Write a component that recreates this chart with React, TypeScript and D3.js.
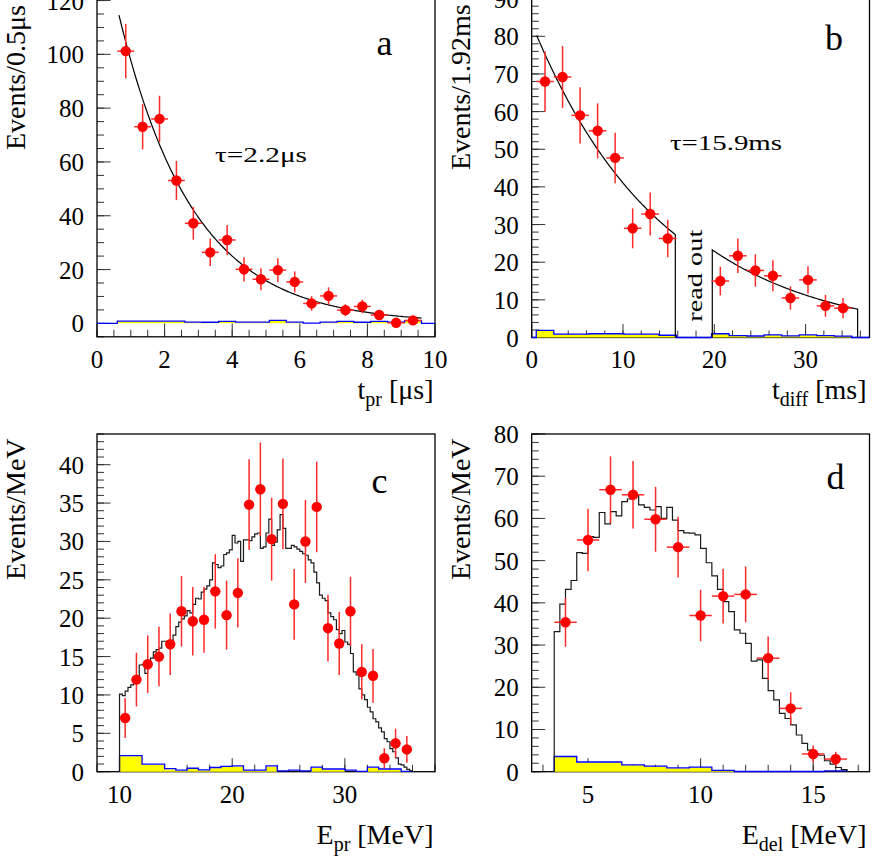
import React from 'react';
import * as d3 from 'd3';

const FONT = '"Liberation Serif","Times New Roman",Times,serif';

// ---------- Panel a : t_pr ----------
const A_T = [0.85, 1.35, 1.85, 2.35, 2.85, 3.35, 3.85, 4.35, 4.85, 5.35, 5.85, 6.35, 6.85, 7.35, 7.85, 8.35, 8.85, 9.35];
const A_N = [101.2, 73.1, 76.0, 53.1, 37.2, 26.4, 31.0, 20.1, 16.4, 19.8, 15.4, 7.4, 10.2, 4.9, 6.3, 3.1, 0.2, 1.1];
const A_ERR = [10.1, 8.4, 8.6, 7.3, 6.1, 5.1, 5.6, 4.5, 4.1, 4.4, 3.9, 2.7, 3.2, 2.2, 2.5, 1.8, 0.4, 1.0];
const A_BIN = 0.5;
const A_BG_START = 0.6;
const A_BG_YELLOW = [0.7, 0.7, 0.7, 0.7, 0.35, 0.3, 0.6, 0.35, 0.35, 1.0, 0.35, 0, 0.35, 0.6, 0.3, 0.6, 0.3, 0.9];
const A_BG_BLUE = [0.8, 0.8, 0.8, 0.8, 0.45, 0.4, 0.7, 0.45, 0.45, 1.1, 0.45, 0.05, 0.45, 0.7, 0.4, 0.7, 0.4, 1.0];
const A_FIT = { amp: 154, tau: 2.2, from: 0.65, to: 9.63 };
const A_X_TICKS = [0, 2, 4, 6, 8, 10];
const A_Y_TICKS = [0, 20, 40, 60, 80, 100, 120];

// ---------- Panel b : t_diff ----------
const B_T = [1.46, 3.38, 5.3, 7.22, 9.14, 11.06, 12.98, 14.9, 20.66, 22.58, 24.5, 26.42, 28.34, 30.26, 32.18, 34.1];
const B_N = [68.0, 69.2, 59.0, 54.9, 47.7, 29.0, 32.8, 26.3, 15.0, 21.7, 17.8, 16.4, 10.5, 15.3, 8.4, 7.8];
const B_ERR = [8.0, 8.2, 7.5, 7.3, 6.7, 5.3, 5.7, 5.0, 3.8, 4.6, 4.3, 4.1, 3.1, 3.6, 2.9, 2.7];
const B_BIN = 1.92;
const B_BG_START = 0.5;
const B_BG_YELLOW = [1.8, 0.8, 0.8, 0.9, 0.9, 0.8, 0.8, 0.5, 0, 0, 0.9, 0.4, 0.3, 0.6, 0.35, 0.6, 0.4, 0.25];
const B_BG_BLUE = [1.9, 0.9, 0.9, 1.0, 1.0, 0.9, 0.9, 0.6, 0, 0, 1.0, 0.5, 0.4, 0.7, 0.45, 0.7, 0.5, 0.35];
const B_FIT_TAU = 14.1;
const B_FIT_SEGMENTS = [
  { from: 0.55, to: 15.73, amp: 83.4, rise: false },
  { from: 19.78, to: 35.7, amp: 94.6, rise: true },
];
const B_X_TICKS = [0, 10, 20, 30];
const B_Y_TICKS = [0, 10, 20, 30, 40, 50, 60, 70, 80, 90];

// ---------- Panel c : E_pr ----------
const C_E = [10.5, 11.5, 12.5, 13.5, 14.5, 15.5, 16.5, 17.5, 18.5, 19.5, 20.5, 21.5, 22.5, 23.5, 24.5, 25.5, 26.5, 27.5, 28.5, 29.5, 30.5, 31.5, 32.5, 33.5, 34.5, 35.5];
const C_N = [7.0, 12.0, 14.0, 15.0, 16.6, 20.9, 19.6, 19.8, 23.5, 20.4, 23.3, 34.8, 36.8, 30.3, 34.9, 21.8, 30.0, 34.5, 18.7, 16.7, 20.9, 13.0, 12.5, 1.75, 3.7, 2.9];
const C_ERR = [2.6, 3.5, 3.76, 3.87, 4.0, 4.6, 4.45, 4.3, 4.85, 4.5, 4.5, 5.9, 6.1, 5.4, 5.9, 4.6, 5.4, 5.9, 4.35, 4.1, 4.5, 3.6, 3.5, 1.3, 1.9, 1.74];
const C_MC_START = 10;
const C_MC_BIN = 0.25;
const C_MC = [
  10.1, 9.9, 10.5, 11.0,
  11.3, 11.7, 12.3, 13.9,
  14.0, 12.8, 14.2, 14.8,
  15.6, 15.9, 16.1, 17.0,
  17.0, 16.3, 16.6, 17.8,
  18.9, 19.5, 19.9, 20.3,
  21.0, 20.7, 21.8, 22.6,
  22.5, 23.4, 23.8, 24.2,
  25.0, 27.2, 27.0, 26.6,
  26.8, 28.3, 28.5, 28.9,
  30.8, 29.8, 30.0, 27.4,
  30.2, 30.2, 30.1, 30.6,
  31.0, 31.1, 29.1, 29.3,
  31.1, 32.9, 29.5, 29.9,
  31.5, 33.5, 31.7, 29.1,
  29.1, 29.5, 29.3, 29.0,
  28.7, 28.4, 28.2, 27.6,
  27.2, 26.0, 24.6, 23.0,
  22.6, 22.3, 20.7, 20.2,
  19.8, 18.5, 18.0, 18.4,
  16.9, 16.6, 15.4, 13.0,
  12.6, 10.8, 10.0, 9.4,
  8.4, 7.8, 6.9, 6.5,
  5.7, 5.2, 4.3, 3.9,
  3.0, 2.6, 1.8, 1.0,
  0.9, 0.6, 0.3, 0.1,
];
const C_BG_START = 10;
const C_BG_BIN = 1;
const C_BG_YELLOW = [2.0, 2.0, 0.9, 0.9, 0.3, 0.1, 0.35, 0.15, 0.45, 0.6, 0.65, 0.1, 0.1, 0.65, 0, 0, 0, 0.5, 0.25, 0.25, 0, 0, 0.5, 0.25, 0.25, 0];
const C_BG_BLUE = [2.1, 2.1, 1.0, 1.0, 0.4, 0.2, 0.45, 0.25, 0.55, 0.7, 0.75, 0.2, 0.2, 0.75, 0.1, 0.2, 0.1, 0.6, 0.35, 0.35, 0.2, 0.05, 0.6, 0.35, 0.35, 0.05];
const C_X_TICKS = [10, 20, 30];
const C_Y_TICKS = [0, 5, 10, 15, 20, 25, 30, 35, 40];

// ---------- Panel d : E_del ----------
const D_E = [4, 5, 6, 7, 8, 9, 10, 11, 12, 13, 14, 15, 16];
const D_N = [35.4, 54.9, 66.8, 65.6, 59.8, 53.2, 37.0, 41.6, 42.0, 26.9, 15.0, 4.2, 3.0];
const D_ERR = [5.8, 7.4, 7.9, 8.0, 7.7, 7.2, 6.1, 6.5, 6.6, 5.1, 3.8, 2.0, 1.7];
const D_BIN = 1;
const D_MC_START = 3.5;
const D_MC_BIN = 0.25;
const D_MC = [
  33.2, 39.7, 43.2, 45.3, 51.9, 51.7, 55.7, 55.5, 61.4, 58.7, 61.6, 60.6, 64.0, 64.6, 65.6, 63.2,
  62.6, 62.0, 62.8, 60.0, 62.6, 59.6, 57.1, 56.6, 56.5, 56.1, 52.9, 49.5, 46.4, 43.2, 40.3, 37.9,
  33.6, 32.8, 30.4, 26.2, 26.5, 22.1, 19.2, 17.0, 13.8, 12.6, 11.1, 8.7, 6.7, 5.1, 4.3, 3.9,
  2.6, 1.8, 1.0, 0.5,
];
const D_BG_START = 3.5;
const D_BG_BIN = 1;
const D_BG_YELLOW = [3.5, 2.2, 2.2, 1.5, 1.2, 0.8, 1.0, 0.2, 0, 0, 0, 0, 0];
const D_BG_BLUE = [3.6, 2.3, 2.3, 1.6, 1.3, 0.9, 1.1, 0.3, 0.05, 0.05, 0.05, 0.05, 0.2];
const D_X_TICKS = [5, 10, 15];
const D_Y_TICKS = [0, 10, 20, 30, 40, 50, 60, 70, 80];

type Scale = d3.ScaleLinear<number, number>;
type Pt = [number, number];

const lineGen = (x: Scale, y: Scale) => d3.line<Pt>().x((d) => x(d[0])).y((d) => y(d[1]));

function stepPoints(start: number, width: number, vals: number[]): Pt[] {
  const pts: Pt[] = [[start, 0]];
  vals.forEach((v, i) => {
    pts.push([start + i * width, v]);
    pts.push([start + (i + 1) * width, v]);
  });
  pts.push([start + vals.length * width, 0]);
  return pts;
}

function Background({ x, y, start, width, yellow, blue, full }: { x: Scale; y: Scale; start: number; width: number; yellow: number[]; blue: number[]; full?: boolean }) {
  const yPts = stepPoints(start, width, yellow);
  let bPts = stepPoints(start, width, blue);
  if (full) {
    const [d0, d1] = x.domain();
    bPts = [[d0, 0] as Pt, ...bPts, [d1, 0] as Pt];
  }
  const lg = lineGen(x, y);
  return (
    <g>
      <path d={(lg(yPts) || '') + 'Z'} fill="#ffff00" stroke="none" />
      <path d={lg(bPts) || ''} fill="none" stroke="#0000ff" strokeWidth={1.3} />
    </g>
  );
}

function StepHist({ x, y, start, width, vals }: { x: Scale; y: Scale; start: number; width: number; vals: number[] }) {
  const lg = lineGen(x, y);
  return <path d={lg(stepPoints(start, width, vals)) || ''} fill="none" stroke="#1a1a1a" strokeWidth={1.2} />;
}

function DataPoints({ x, y, xs, ys, errs, halfBin }: { x: Scale; y: Scale; xs: number[]; ys: number[]; errs: number[]; halfBin: number }) {
  return (
    <g>
      {xs.map((xv, i) => (
        <g key={'e' + i} stroke="#ff2a2a" strokeWidth={1.5}>
          <line x1={x(xv)} x2={x(xv)} y1={y(ys[i] - errs[i])} y2={y(ys[i] + errs[i])} />
          {halfBin > 0 && <line x1={x(xv - halfBin)} x2={x(xv + halfBin)} y1={y(ys[i])} y2={y(ys[i])} />}
        </g>
      ))}
      {xs.map((xv, i) => (
        <circle key={'m' + i} cx={x(xv)} cy={y(ys[i])} r={5.2} fill="#ff0000" />
      ))}
    </g>
  );
}

function Frame({ x, y, xTicks, xMinor, yTicks, yMinor }: { x: Scale; y: Scale; xTicks: number[]; xMinor: number; yTicks: number[]; yMinor: number }) {
  const [x0, x1] = x.domain();
  const [y0, y1] = y.domain();
  const L = x(x0), R = x(x1), B = y(y0), T = y(y1);
  const xm = d3.range(Math.ceil(x0 / xMinor - 1e-9) * xMinor, x1 + 1e-9, xMinor);
  const ym = d3.range(Math.ceil(y0 / yMinor - 1e-9) * yMinor, y1 + 1e-9, yMinor);
  return (
    <g>
      <g stroke="#333" strokeWidth={1}>
        {xm.map((v, i) => <line key={'xm' + i} x1={x(v)} x2={x(v)} y1={B} y2={B - 7} />)}
        {xTicks.map((v, i) => <line key={'xM' + i} x1={x(v)} x2={x(v)} y1={B} y2={B - 13.5} />)}
        {ym.map((v, i) => <line key={'ym' + i} x1={L} x2={L + 7} y1={y(v)} y2={y(v)} />)}
        {yTicks.map((v, i) => <line key={'yM' + i} x1={L} x2={L + 13.5} y1={y(v)} y2={y(v)} />)}
      </g>
      <rect x={L} y={T} width={R - L} height={B - T} fill="none" stroke="#000" strokeWidth={1.3} />
    </g>
  );
}

function TickLabels({ x, y, xTicks, yTicks, xBaseline }: { x: Scale; y: Scale; xTicks: number[]; yTicks: number[]; xBaseline: number }) {
  const L = x(x.domain()[0]);
  return (
    <g fontFamily={FONT} fontSize={25} fill="#000">
      {xTicks.map((v, i) => (
        <text key={'xl' + i} x={x(v)} y={xBaseline} textAnchor="middle">{String(v)}</text>
      ))}
      {yTicks.map((v, i) => (
        <text key={'yl' + i} x={L - 13} y={y(v)} dy="0.36em" textAnchor="end">{String(v)}</text>
      ))}
    </g>
  );
}

function XTitle({ xRight, baseline, main, sub, unit }: { xRight: number; baseline: number; main: string; sub: string; unit: string }) {
  return (
    <text x={xRight} y={baseline} textAnchor="end" fontFamily={FONT} fontSize={28}>
      {main}
      <tspan fontSize={20} dy={7}>{sub}</tspan>
      <tspan dy={-7}>{' ' + unit}</tspan>
    </text>
  );
}

function YTitle({ x, y, label }: { x: number; y: number; label: string }) {
  return (
    <text transform={`translate(${x},${y}) rotate(-90)`} fontFamily={FONT} fontSize={28}>{label}</text>
  );
}

export default function App() {
  // scales
  const ax = d3.scaleLinear().domain([0, 10]).range([97, 435]);
  const ay = d3.scaleLinear().domain([-5, 125]).range([336.8, 336.8 - 130 * 2.69]);
  const bx = d3.scaleLinear().domain([0, 37]).range([531.7, 869.5]);
  const by = d3.scaleLinear().domain([0, 93]).range([337.5, 337.5 - 93 * 3.765]);
  const cx = d3.scaleLinear().domain([8, 38]).range([97, 435]);
  const cy = d3.scaleLinear().domain([0, 44]).range([771.7, 434]);
  const dx = d3.scaleLinear().domain([2.5, 17.5]).range([531.7, 869.5]);
  const dy = d3.scaleLinear().domain([0, 80]).range([771.7, 434]);

  const aFitPts: Pt[] = d3.range(A_FIT.from, A_FIT.to + 1e-9, 0.05).map((t) => [t, A_FIT.amp * Math.exp(-t / A_FIT.tau)] as Pt);
  const bFitPaths = B_FIT_SEGMENTS.map((s) => {
    const pts: Pt[] = d3.range(s.from, s.to + 1e-9, 0.1).map((t) => [t, s.amp * Math.exp(-t / B_FIT_TAU)] as Pt);
    pts.push([s.to, s.amp * Math.exp(-s.to / B_FIT_TAU)]);
    if (s.rise) pts.unshift([s.from, 0]);
    pts.push([s.to, 0]);
    return lineGen(bx, by)(pts) || '';
  });

  return (
    <svg width={872} height={868} style={{ position: 'absolute', left: 0, top: 0, background: '#fff' }}>
      <rect x={0} y={0} width={872} height={868} fill="#fff" />

      {/* Panel a */}
      <Frame x={ax} y={ay} xTicks={A_X_TICKS} xMinor={0.5} yTicks={A_Y_TICKS} yMinor={5} />
      <Background x={ax} y={ay} start={A_BG_START} width={A_BIN} yellow={A_BG_YELLOW} blue={A_BG_BLUE} full />
      <path d={lineGen(ax, ay)(aFitPts) || ''} fill="none" stroke="#000" strokeWidth={1.2} />
      <DataPoints x={ax} y={ay} xs={A_T} ys={A_N} errs={A_ERR} halfBin={A_BIN / 2} />
      <TickLabels x={ax} y={ay} xTicks={A_X_TICKS} yTicks={A_Y_TICKS} xBaseline={367.5} />
      <YTitle x={25} y={150} label="Events/0.5μs" />
      <XTitle xRight={433.5} baseline={399} main="t" sub="pr" unit="[μs]" />
      <text x={376.5} y={55} fontFamily={FONT} fontSize={36}>a</text>
      <text x={215} y={161.7} fontFamily={FONT} fontSize={21} textLength={92} lengthAdjust="spacingAndGlyphs">τ=2.2μs</text>

      {/* Panel b */}
      <Frame x={bx} y={by} xTicks={B_X_TICKS} xMinor={2} yTicks={B_Y_TICKS} yMinor={2} />
      <Background x={bx} y={by} start={B_BG_START} width={B_BIN} yellow={B_BG_YELLOW} blue={B_BG_BLUE} full />
      {bFitPaths.map((d, i) => <path key={'bf' + i} d={d} fill="none" stroke="#000" strokeWidth={1.2} />)}
      <DataPoints x={bx} y={by} xs={B_T} ys={B_N} errs={B_ERR} halfBin={B_BIN / 2} />
      <TickLabels x={bx} y={by} xTicks={B_X_TICKS} yTicks={B_Y_TICKS} xBaseline={367.5} />
      <YTitle x={470} y={170} label="Events/1.92ms" />
      <XTitle xRight={866.5} baseline={399} main="t" sub="diff" unit="[ms]" />
      <text x={825} y={50} fontFamily={FONT} fontSize={36}>b</text>
      <text x={670} y={150} fontFamily={FONT} fontSize={22} textLength={112} lengthAdjust="spacingAndGlyphs">τ=15.9ms</text>
      <text transform="translate(701.5,321.7) rotate(-90)" fontFamily={FONT} fontSize={22} textLength={92} lengthAdjust="spacingAndGlyphs">read out</text>

      {/* Panel c */}
      <Frame x={cx} y={cy} xTicks={C_X_TICKS} xMinor={2} yTicks={C_Y_TICKS} yMinor={1} />
      <Background x={cx} y={cy} start={C_BG_START} width={C_BG_BIN} yellow={C_BG_YELLOW} blue={C_BG_BLUE} />
      <StepHist x={cx} y={cy} start={C_MC_START} width={C_MC_BIN} vals={C_MC} />
      <DataPoints x={cx} y={cy} xs={C_E} ys={C_N} errs={C_ERR} halfBin={0} />
      <TickLabels x={cx} y={cy} xTicks={C_X_TICKS} yTicks={C_Y_TICKS} xBaseline={803} />
      <YTitle x={25} y={580} label="Events/MeV" />
      <XTitle xRight={433.5} baseline={844} main="E" sub="pr" unit="[MeV]" />
      <text x={371.5} y={493} fontFamily={FONT} fontSize={36}>c</text>

      {/* Panel d */}
      <Frame x={dx} y={dy} xTicks={D_X_TICKS} xMinor={1} yTicks={D_Y_TICKS} yMinor={2} />
      <Background x={dx} y={dy} start={D_BG_START} width={D_BG_BIN} yellow={D_BG_YELLOW} blue={D_BG_BLUE} />
      <StepHist x={dx} y={dy} start={D_MC_START} width={D_MC_BIN} vals={D_MC} />
      <DataPoints x={dx} y={dy} xs={D_E} ys={D_N} errs={D_ERR} halfBin={D_BIN / 2} />
      <TickLabels x={dx} y={dy} xTicks={D_X_TICKS} yTicks={D_Y_TICKS} xBaseline={803} />
      <YTitle x={469.5} y={580} label="Events/MeV" />
      <XTitle xRight={866.5} baseline={844} main="E" sub="del" unit="[MeV]" />
      <text x={826.5} y={489} fontFamily={FONT} fontSize={36}>d</text>
    </svg>
  );
}
